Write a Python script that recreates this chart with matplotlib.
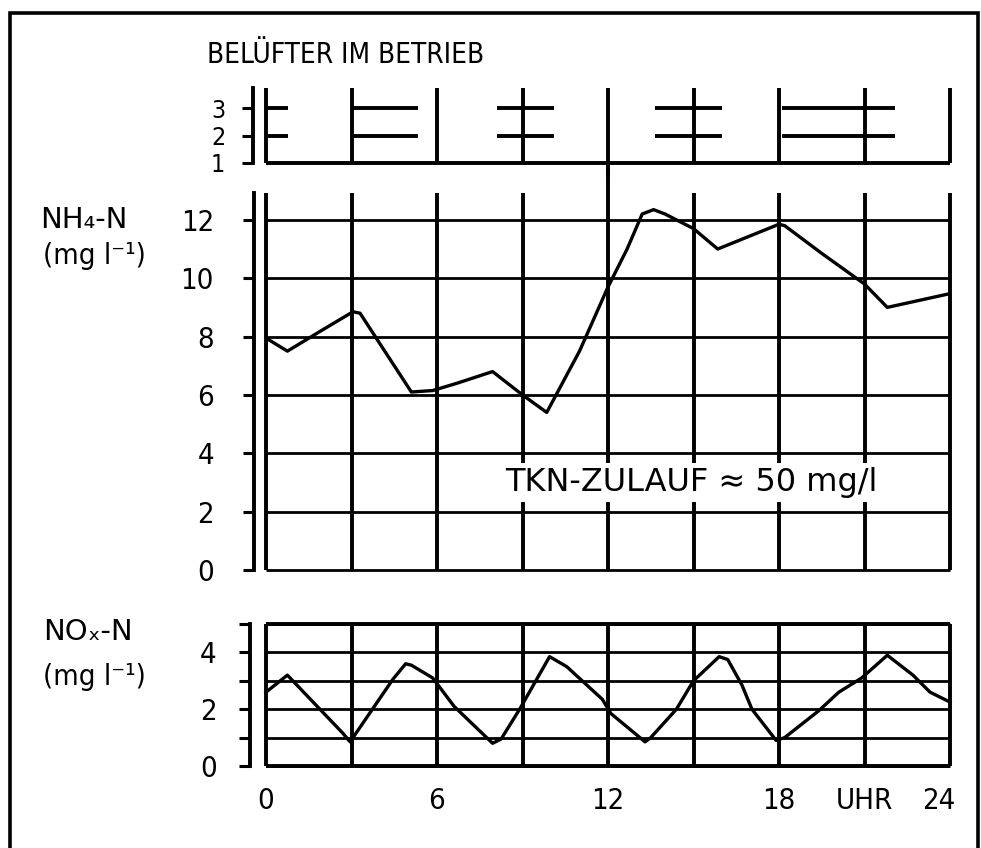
import matplotlib.pyplot as plt

# aeration: which aerators run (levels 2 and 3), start/end in hours
aer_start = [0.0, 2.98, 8.1, 13.65, 18.1]
aer_end = [0.77, 5.33, 10.1, 16.0, 22.07]
aer_levels = [2, 3]

# NH4-N over the day
nh4_h = [0, 0.75, 1.85, 3.05, 3.3, 4.3, 5.1, 5.85, 6.7, 7.95, 9.0, 9.85, 11.0,
         12.0, 12.67, 13.2, 13.6, 14.0, 15.0, 15.85, 18.0, 18.2, 19.5, 21.0, 21.8, 23.9]
nh4 = [7.95, 7.5, 8.15, 8.85, 8.8, 7.3, 6.1, 6.15, 6.4, 6.8, 6.0, 5.4, 7.5,
       9.7, 11.0, 12.2, 12.35, 12.2, 11.7, 11.0, 11.85, 11.8, 10.85, 9.8, 9.0, 9.45]

# NOx-N over the day
nox_h = [0.0, 0.75, 2.7, 2.95, 4.45, 4.9, 5.1, 5.85, 6.6, 7.95, 8.25, 8.9, 9.95, 10.55,
         11.8, 12.1, 13.3, 13.5, 14.4, 15.0, 15.9, 16.2, 16.7, 17.05, 17.9, 18.2, 19.4,
         20.1, 20.9, 21.8, 22.7, 23.3, 24.0]
nox = [2.6, 3.2, 1.15, 0.85, 3.05, 3.6, 3.55, 3.1, 2.1, 0.8, 0.95, 2.0, 3.85, 3.5,
       2.35, 1.85, 0.85, 1.0, 2.0, 3.0, 3.85, 3.75, 2.85, 2.0, 0.9, 1.0, 1.95,
       2.6, 3.1, 3.9, 3.2, 2.6, 2.25]

hours = [0, 3, 6, 9, 12, 15, 18, 21, 24]
xlabels_pos = [0, 6, 12, 18, 21, 23.6]
xlabels = ['0', '6', '12', '18', 'UHR', '24']

NARROW = dict(family=['DejaVu Sans'], fontstretch='condensed')
VLW = 2.8
HLW = 2.0
CLW = 2.4

fig = plt.figure(figsize=(9.81, 8.48), dpi=100)


def box(top_px, bottom_px):
    return [266 / 981, 1 - bottom_px / 848, 684 / 981, (bottom_px - top_px) / 848]


def style(ax, offset_pt):
    for s in ['top', 'right', 'bottom']:
        ax.spines[s].set_visible(False)
    ax.spines['left'].set_position(('outward', offset_pt))
    ax.spines['left'].set_linewidth(2.8)
    ax.tick_params(axis='y', direction='out', length=8, width=2.2)
    ax.set_xlim(0, 24)
    ax.set_xticks([])
    ax.patch.set_visible(False)


# top: aerators
ax1 = fig.add_axes(box(88, 163))
style(ax1, 9.4)
ax1.set_ylim(1, 3.73)
ax1.set_yticks([1, 2, 3])
ax1.set_yticklabels(['1', '2', '3'], fontsize=18, **NARROW)
ax1.tick_params(axis='y', pad=12)
ax1.hlines(1, 0, 24, color='black', lw=VLW, clip_on=False)
ax1.vlines(hours, 1, 3.73, color='black', lw=VLW, clip_on=False)
ax1.vlines(12, 0.5, 1, color='black', lw=VLW, clip_on=False)
for lev in aer_levels:
    ax1.hlines([lev] * len(aer_start), aer_start, aer_end, color='black', lw=2.8)

# middle: NH4-N
ax2 = fig.add_axes(box(193, 570))
style(ax2, 8.5)
ax2.set_ylim(0, 12.92)
ax2.set_yticks(range(0, 13, 2))
ax2.set_yticklabels([str(v) for v in range(0, 13, 2)], fontsize=21, **NARROW)
ax2.tick_params(axis='y', pad=21)
ax2.hlines(range(0, 13, 2), 0, 24, color='black', lw=HLW, clip_on=False)
ax2.vlines(hours, 0, 12.92, color='black', lw=VLW, clip_on=False)
ax2.vlines(12, 12.9, 13.95, color='black', lw=VLW, clip_on=False)
ax2.plot(nh4_h, nh4, color='black', lw=CLW, clip_on=False)
ax2.text(8.4, 3.0, 'TKN-ZULAUF ≈ 50 mg/l', family=['DejaVu Sans'], fontsize=23,
         va='center', ha='left', zorder=5,
         bbox=dict(facecolor='white', edgecolor='none', pad=3))

# bottom: NOx-N
ax3 = fig.add_axes(box(624, 766))
style(ax3, 11.5)
ax3.set_ylim(0, 5)
ax3.set_yticks(range(0, 6))
ax3.set_yticklabels(['0', '', '2', '', '4', ''], fontsize=21, **NARROW)
ax3.tick_params(axis='y', pad=16)
ax3.hlines(range(0, 6), 0, 24, color='black', lw=HLW, clip_on=False)
ax3.hlines([0, 5], 0, 24, color='black', lw=VLW, clip_on=False)
ax3.vlines(hours, 0, 5, color='black', lw=VLW, clip_on=False)
ax3.plot(nox_h, nox, color='black', lw=CLW, clip_on=False)
ax3.set_xticks(xlabels_pos)
ax3.set_xticklabels(xlabels, fontsize=21, **NARROW)
ax3.tick_params(axis='x', length=0, pad=15)

# labels
fig.text(207 / 981, 1 - 55 / 848, 'BELÜFTER IM BETRIEB', fontsize=20,
         va='center', ha='left', **NARROW)
fig.text(40 / 981, 1 - 220 / 848, 'NH₄-N', fontsize=21, family=['DejaVu Sans'],
         va='center', ha='left')
fig.text(43 / 981, 1 - 256 / 848, '(mg l⁻¹)', fontsize=21,
         va='center', ha='left', **NARROW)
fig.text(43 / 981, 1 - 632 / 848, 'NOₓ-N', fontsize=21, family=['DejaVu Sans'],
         va='center', ha='left')
fig.text(43 / 981, 1 - 677 / 848, '(mg l⁻¹)', fontsize=21,
         va='center', ha='left', **NARROW)

# page frame
fig.add_artist(plt.Rectangle((10 / 981, -0.01), 968 / 981, 1 - 13 / 848 + 0.01,
                             transform=fig.transFigure, fill=False, lw=2.6,
                             color='black'))

fig.savefig('out.png', dpi=100)
